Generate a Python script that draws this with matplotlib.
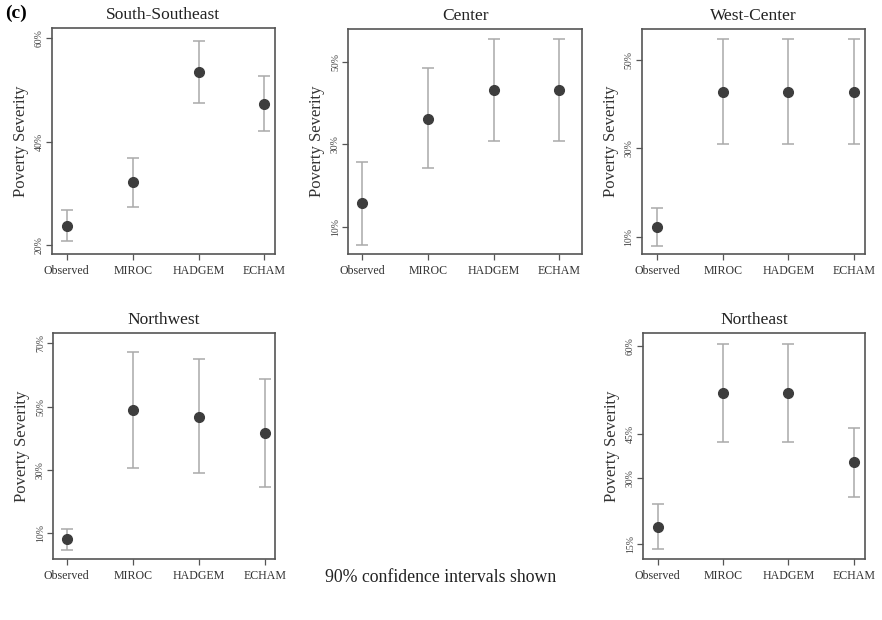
import matplotlib
matplotlib.use("Agg")
import matplotlib.pyplot as plt
import numpy as np

plt.rcParams['font.family'] = ['Liberation Serif', 'DejaVu Serif']

models = ["Observed", "MIROC", "HADGEM", "ECHAM"]

regions = ["South-Southeast", "Center", "West-Center", "Northwest", "Northeast"]

# point estimates (percent)
sse_est = [23.7, 32.1, 53.4, 47.2]
sse_lo = [20.8, 27.4, 47.5, 42.0]
sse_hi = [26.8, 36.9, 59.5, 52.7]

cen_est = [15.7, 36.1, 43.1, 43.1]
cen_lo = [5.6, 24.3, 30.7, 30.7]
cen_hi = [25.6, 48.4, 55.4, 55.4]

wc_est = [12.3, 42.8, 42.8, 42.8]
wc_lo = [8.0, 31.1, 31.1, 31.1]
wc_hi = [16.6, 54.7, 54.7, 54.7]

nw_est = [7.9, 48.9, 46.7, 41.5]
nw_lo = [4.5, 30.4, 28.8, 24.6]
nw_hi = [11.3, 67.3, 64.9, 58.6]

ne_est = [18.8, 49.3, 49.3, 33.5]
ne_lo = [13.8, 38.1, 38.1, 25.7]
ne_hi = [24.0, 60.4, 60.4, 41.4]

# tick positions and their printed labels
sse_ticks = [20, 40, 60]
sse_labels = ["20%", "40%", "60%"]
cen_ticks = [10, 30, 50]
cen_labels = ["10%", "30%", "50%"]
wc_ticks = [10, 30, 50]
wc_labels = ["10%", "30%", "50%"]
nw_ticks = [10, 30, 50, 70]
nw_labels = ["10%", "30%", "50%", "70%"]
ne_ticks = [15, 30, 40, 60]
ne_labels = ["15%", "30%", "45%", "60%"]

W, H = 882, 620
fig = plt.figure(figsize=(W / 100, H / 100), dpi=100)

def box(l, r, t, b):
    return [l / W, 1 - b / H, (r - l) / W, (b - t) / H]

panels = [
    (regions[0], sse_est, sse_lo, sse_hi, sse_ticks, sse_labels, box(51.7, 275, 28.3, 254), (0.77, 4.16), (18.26, 61.9)),
    (regions[1], cen_est, cen_lo, cen_hi, cen_ticks, cen_labels, box(348.3, 582.3, 29.3, 254), (0.79, 4.35), (3.4, 57.85)),
    (regions[2], wc_est, wc_lo, wc_hi, wc_ticks, wc_labels, box(641.7, 865, 29.3, 254), (0.76, 4.17), (6.1, 56.95)),
    (regions[3], nw_est, nw_lo, nw_hi, nw_ticks, nw_labels, box(53.3, 275, 333.3, 559.3), (0.80, 4.15), (1.6, 73.2)),
    (regions[4], ne_est, ne_lo, ne_hi, ne_ticks, ne_labels, box(643.3, 865, 333.3, 559.3), (0.78, 4.17), (11.5, 62.8)),
]

frame_col = "#555555"
dot_col = "#3d3d3d"
bar_col = "#aaaaaa"

for title, est, lo, hi, ticks, labels, pos, xl, yl in panels:
    ax = fig.add_axes(pos)
    x = np.arange(1, len(models) + 1)
    est = np.array(est); lo = np.array(lo); hi = np.array(hi)
    ax.errorbar(x, est, yerr=[est - lo, hi - est], fmt='none', ecolor=bar_col,
                elinewidth=1.1, capsize=4, capthick=1.1, zorder=2)
    ax.plot(x, est, 'o', color=dot_col, markersize=7, zorder=3)
    ax.set_xlim(*xl)
    ax.set_ylim(*yl)
    ax.set_xticks(x)
    ax.set_xticklabels(models, fontsize=8.6, color="#333333")
    ax.set_yticks(ticks)
    ax.set_yticklabels(labels, fontsize=7, color="#444444", rotation=90, va='center')
    ax.tick_params(axis='x', direction='out', length=4, width=0.9, color=frame_col, pad=4)
    ax.tick_params(axis='y', direction='out', length=4, width=0.9, color=frame_col, pad=2)
    for s in ax.spines.values():
        s.set_color(frame_col)
        s.set_linewidth(1.2)
    ax.set_title(title, fontsize=12.5, color="#222222", pad=7)
    ax.set_ylabel("Poverty Severity", fontsize=12, color="#333333", labelpad=4)

fig.text(5 / W, 1 - 13 / H, "(c)", fontsize=14, fontweight='bold', va='center', ha='left')
fig.text(441 / W, 1 - 577 / H, "90% confidence intervals shown", fontsize=12.8,
         ha='center', va='center', color="#222222")

fig.savefig("out.png", dpi=100)
